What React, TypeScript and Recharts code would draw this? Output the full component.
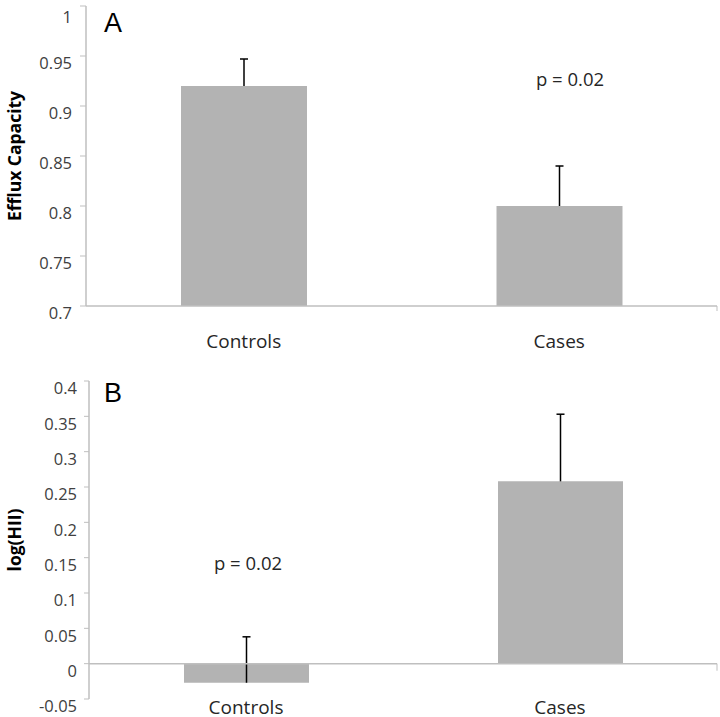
import { BarChart, Bar, XAxis, YAxis, ReferenceLine } from 'recharts'

const categories = ['Controls', 'Cases']
const effluxValues = [0.92, 0.8]
const effluxErrors = [0.027, 0.04]
const hiiValues = [-0.027, 0.258]
const hiiErrors = [0.065, 0.095]
const effluxTicks = [0.7, 0.75, 0.8, 0.85, 0.9, 0.95, 1]
const hiiTicks = [-0.05, 0, 0.05, 0.1, 0.15, 0.2, 0.25, 0.3, 0.35, 0.4]

const dataA = categories.map((name, i) => ({ name, value: effluxValues[i], err: effluxErrors[i] }))
const dataB = categories.map((name, i) => ({ name, value: hiiValues[i], err: hiiErrors[i] }))

const font = '"Open Sans", sans-serif'
const axisGray = '#bfbfbf'
const barGray = '#b3b3b3'
const tickStyle = { fontSize: 16.5, fill: '#404040', fontFamily: font, dy: 7.5 }
const catStyle = { fontSize: 19, fill: '#262626', fontFamily: font }
const yLabelStyle = { fontSize: 17.5, fontWeight: 700, fill: '#000', fontFamily: font, textAnchor: 'middle' }

// upper-only error whisker, drawn from the stacked "err" segment
const Whisker = (props: any) => {
  const { x, y, width, height } = props
  const cx = x + width / 2
  return (
    <g>
      <line x1={cx} x2={cx} y1={y} y2={y + height} stroke="#000" strokeWidth={1.5} />
      <line x1={cx - 4} x2={cx + 4} y1={y} y2={y} stroke="#000" strokeWidth={1.5} />
    </g>
  )
}

const abs = (left: number, top: number, extra: any = {}) => ({
  position: 'absolute' as const,
  left,
  top,
  margin: 0,
  whiteSpace: 'nowrap' as const,
  ...extra,
})

export default function App() {
  return (
    <div style={{ position: 'absolute', left: 0, top: 0, width: 720, height: 717, background: '#fff' }}>
      <div style={{ position: 'absolute', left: 0, top: 0 }}>
        <BarChart width={720} height={360} data={dataA} margin={{ top: 6, right: 3, left: 0, bottom: 0 }}>
          <XAxis
            dataKey="name"
            height={54}
            tickLine={false}
            tickSize={0}
            tickMargin={29}
            axisLine={{ stroke: axisGray, strokeWidth: 1.5 }}
            tick={catStyle}
          />
          <XAxis xAxisId="n" type="number" domain={[0, 2]} hide />
          <YAxis
            type="number"
            width={86}
            domain={[0.7, 1]}
            allowDataOverflow
            ticks={effluxTicks}
            tickSize={6}
            tickMargin={8}
            axisLine={{ stroke: axisGray, strokeWidth: 1.5 }}
            tickLine={{ stroke: axisGray }}
            tick={tickStyle}
            label={{ value: 'Efflux Capacity', angle: -90, position: 'insideLeft', offset: 15, style: yLabelStyle }}
          />
          {[1, 2].map((x) => (
            <ReferenceLine
              key={x}
              xAxisId="n"
              segment={[{ x, y: 0.7 }, { x, y: 0.695 }]}
              stroke={axisGray}
              ifOverflow="visible"
            />
          ))}
          <Bar dataKey="value" stackId="s" fill={barGray} barSize={126} isAnimationActive={false} />
          <Bar dataKey="err" stackId="s" shape={Whisker} barSize={126} isAnimationActive={false} />
        </BarChart>
      </div>

      <div style={{ position: 'absolute', left: 0, top: 360 }}>
        <BarChart width={720} height={357} data={dataB} margin={{ top: 21, right: 3, left: 0, bottom: 0 }}>
          <XAxis
            dataKey="name"
            height={18}
            tickLine={false}
            tickSize={0}
            tickMargin={2}
            axisLine={false}
            tick={catStyle}
          />
          <XAxis xAxisId="n" type="number" domain={[0, 2]} hide />
          <YAxis
            type="number"
            width={89}
            domain={[-0.05, 0.4]}
            allowDataOverflow
            ticks={hiiTicks}
            tickSize={5}
            tickMargin={7}
            axisLine={{ stroke: axisGray, strokeWidth: 1.5 }}
            tickLine={{ stroke: axisGray }}
            tick={tickStyle}
            label={{ value: 'log(HII)', angle: -90, position: 'insideLeft', offset: 15, style: yLabelStyle }}
          />
          <Bar dataKey="value" stackId="s" fill={barGray} barSize={125} isAnimationActive={false} />
          <ReferenceLine y={0} stroke={axisGray} strokeWidth={1.5} />
          <Bar dataKey="err" stackId="s" shape={Whisker} barSize={125} isAnimationActive={false} />
          {[1, 2].map((x) => (
            <ReferenceLine
              key={x}
              xAxisId="n"
              segment={[{ x, y: 0 }, { x, y: -0.01 }]}
              stroke={axisGray}
              ifOverflow="visible"
            />
          ))}
        </BarChart>
      </div>

      <div style={abs(104, 9.5, { fontSize: 27, lineHeight: '27px', fontFamily: '"Liberation Sans", Arial, sans-serif' })}>A</div>
      <div style={abs(104, 379.5, { fontSize: 27, lineHeight: '27px', fontFamily: '"Liberation Sans", Arial, sans-serif' })}>B</div>
      <div style={abs(470, 70, { width: 200, textAlign: 'center', fontSize: 18.5, lineHeight: '18.5px', fontFamily: font, color: '#262626' })}>
        p = 0.02
      </div>
      <div style={abs(148, 553.5, { width: 200, textAlign: 'center', fontSize: 18.5, lineHeight: '18.5px', fontFamily: font, color: '#262626' })}>
        p = 0.02
      </div>
    </div>
  )
}
